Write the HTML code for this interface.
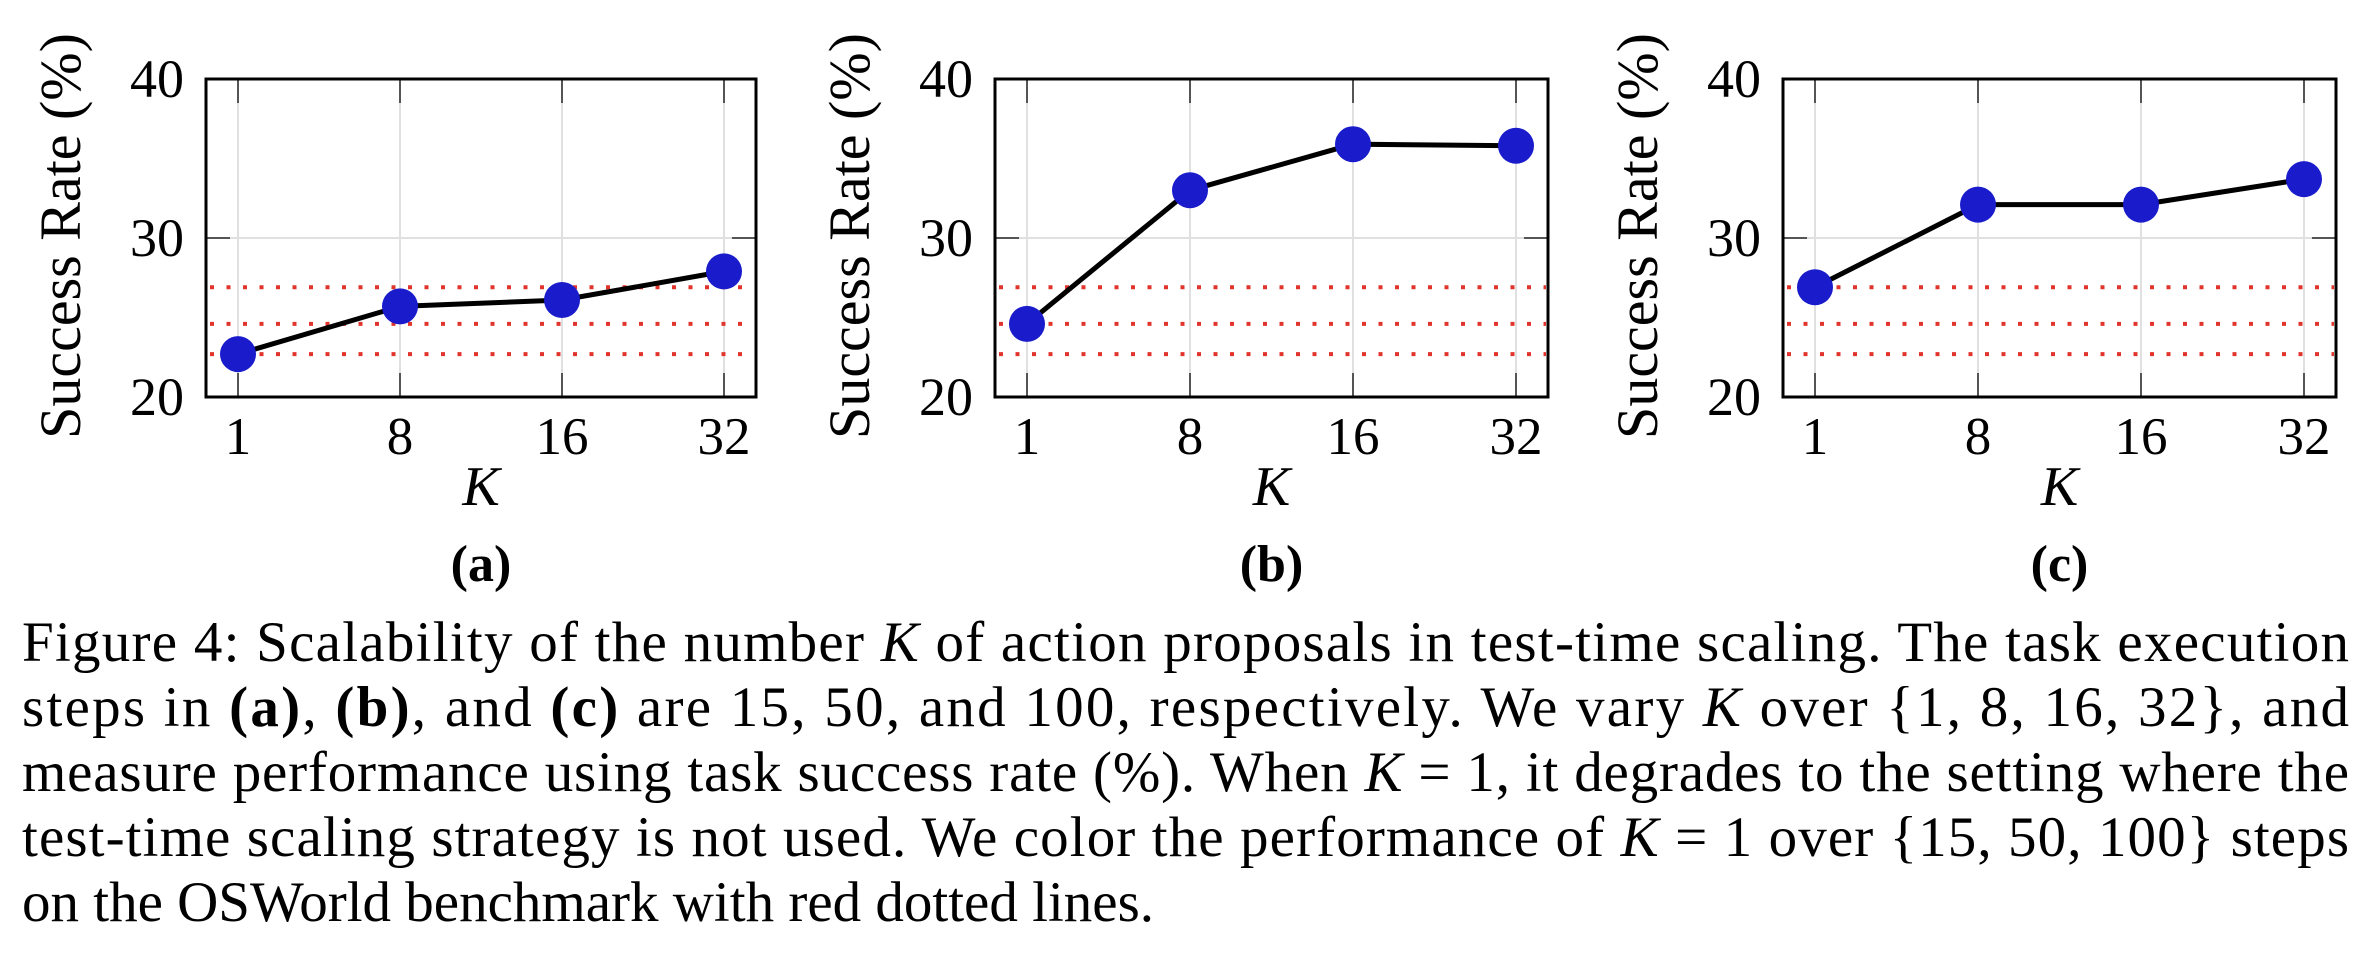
<!DOCTYPE html>
<html><head><meta charset="utf-8"><style>
html,body{margin:0;padding:0;background:#fff;}
svg, svg text{font-family:"Liberation Serif","Times New Roman",Times,serif;}
svg{display:block;}
</style></head><body>
<svg id="fig" width="2368" height="966" viewBox="0 0 2368 966" xmlns="http://www.w3.org/2000/svg" font-family="Liberation Serif, Times New Roman, serif">
<g id="caption" font-size="57" fill="#000">
<text x="22" y="661" textLength="2327" lengthAdjust="spacing">Figure 4: Scalability of the number <tspan font-style="italic">K</tspan> of action proposals in test-time scaling. The task execution</text>
<text x="22" y="726" textLength="2327" lengthAdjust="spacing">steps in <tspan font-weight="bold">(a)</tspan>, <tspan font-weight="bold">(b)</tspan>, and <tspan font-weight="bold">(c)</tspan> are 15, 50, and 100, respectively. We vary <tspan font-style="italic">K</tspan> over {1, 8, 16, 32}, and</text>
<text x="22" y="791" textLength="2327" lengthAdjust="spacing">measure performance using task success rate (%). When <tspan font-style="italic">K</tspan> = 1, it degrades to the setting where the</text>
<text x="22" y="856" textLength="2327" lengthAdjust="spacing">test-time scaling strategy is not used. We color the performance of <tspan font-style="italic">K</tspan> = 1 over {15, 50, 100} steps</text>
<text x="22" y="921">on the OSWorld benchmark with red dotted lines.</text>
</g>
</svg>
<script>
const categories = ["1", "8", "16", "32"];
const seriesA = [22.7, 25.7, 26.1, 27.9];
const seriesB = [24.6, 33.0, 35.9, 35.8];
const seriesC = [26.9, 32.1, 32.1, 33.7];
const baselines = [26.9, 24.6, 22.7];
const yTicks = [20, 30, 40];
const panelLabels = ["(a)", "(b)", "(c)"];

const NS = "http://www.w3.org/2000/svg";
const svgEl = document.getElementById("fig");
function mk(tag, attrs, parent) {
  const e = document.createElementNS(NS, tag);
  for (const k in attrs) e.setAttribute(k, attrs[k]);
  parent.appendChild(e);
  return e;
}
const panels = [
  {left: 206, right: 756, data: seriesA, id: "a"},
  {left: 995, right: 1548, data: seriesB, id: "b"},
  {left: 1783, right: 2336, data: seriesC, id: "c"}
];
const plotTop = 79, plotBottom = 397, yMin = 20, yMax = 40;
function yScale(v) { return plotBottom - (v - yMin) / (yMax - yMin) * (plotBottom - plotTop); }

panels.forEach((p, pi) => {
  const g = mk("g", {}, svgEl);
  
  
  const pad = 32;
  function xScale(i) { return p.left + pad + i * ((p.right - p.left - 2 * pad) / (categories.length - 1)); }
  categories.forEach((c, i) => {
    const x = xScale(i);
    const gl = mk("line", {x1: x, x2: x, y1: plotTop, y2: plotBottom, stroke: "#e0e0e0", "stroke-width": 2}, g);
    
    
    mk("line", {x1: x, x2: x, y1: plotTop, y2: plotTop + 24, stroke: "#555", "stroke-width": 2}, g);
    mk("line", {x1: x, x2: x, y1: plotBottom - 24, y2: plotBottom, stroke: "#555", "stroke-width": 2}, g);
    const t = mk("text", {x: x, y: 454, "text-anchor": "middle", "font-size": 53}, g);
    t.textContent = c;
    
    
  });
  yTicks.forEach(v => {
    const y = yScale(v);
    if (v > yMin && v < yMax) {
      const gl = mk("line", {x1: p.left, x2: p.right, y1: y, y2: y, stroke: "#e0e0e0", "stroke-width": 2}, g);
      
      
      mk("line", {x1: p.left, x2: p.left + 24, y1: y, y2: y, stroke: "#555", "stroke-width": 2}, g);
      mk("line", {x1: p.right - 24, x2: p.right, y1: y, y2: y, stroke: "#555", "stroke-width": 2}, g);
    }
    const t = mk("text", {x: p.left - 22, y: y + 18, "text-anchor": "end", "font-size": 54}, g);
    t.textContent = String(v);
    
    
  });
  baselines.forEach(v => {
    const l = mk("line", {x1: p.left + 4, x2: p.right - 2, y1: yScale(v), y2: yScale(v), stroke: "#e0342c", "stroke-width": 4, "stroke-dasharray": "4 12.5"}, g);
    
    
  });
  const fr = mk("rect", {x: p.left, y: plotTop, width: p.right - p.left, height: plotBottom - plotTop, fill: "none", stroke: "#000", "stroke-width": 3}, g);
  
  
  const pts = p.data.map((v, i) => xScale(i) + "," + yScale(v)).join(" ");
  const pl = mk("polyline", {points: pts, fill: "none", stroke: "#000", "stroke-width": 5}, g);
  
  
  p.data.forEach((v, i) => {
    const c = mk("circle", {cx: xScale(i), cy: yScale(v), r: 18, fill: "#1a1ccc"}, g);
    
    
  });
  const yx = p.left - 126, yc = (plotTop + plotBottom) / 2 - 2;
  const yt = mk("text", {x: yx, y: yc, "text-anchor": "middle", "font-size": 58, transform: "rotate(-90 " + yx + " " + yc + ")"}, g);
  yt.textContent = "Success Rate (%)";
  
  
  const cx = (p.left + p.right) / 2;
  const xt = mk("text", {x: cx, y: 505, "text-anchor": "middle", "font-size": 56, "font-style": "italic"}, g);
  xt.textContent = "K";
  
  
  const pt = mk("text", {x: cx, y: 581, "text-anchor": "middle", "font-size": 52, "font-weight": "bold"}, g);
  pt.textContent = panelLabels[pi];
  
  
});
</script>
</body></html>
